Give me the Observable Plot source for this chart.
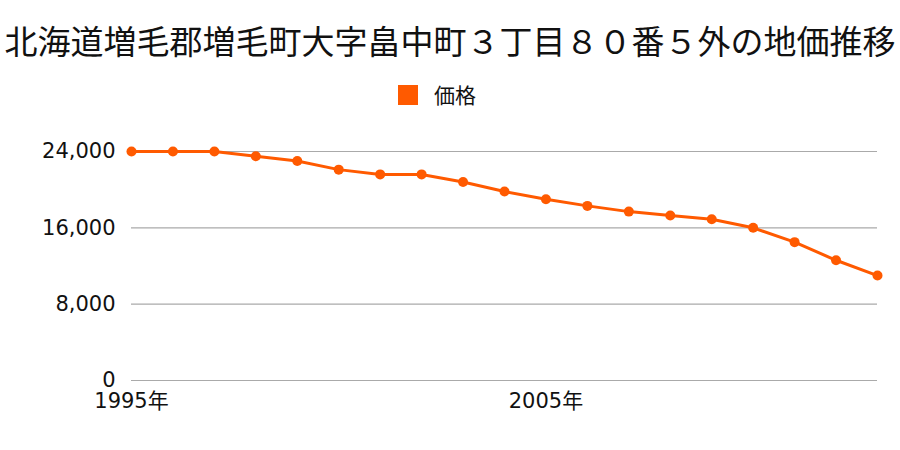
<!DOCTYPE html>
<html><head><meta charset="utf-8">
<script src="https://cdn.jsdelivr.net/npm/d3@7"></script>
<script src="https://cdn.jsdelivr.net/npm/@observablehq/plot@0.6"></script>
<style>
body{margin:0;background:#fff;font-family:"Noto Sans CJK JP","Noto Sans",sans-serif;}
#wrap{width:900px;}
#title{height:78px;font-size:33px;text-align:center;line-height:80px;color:#111;white-space:nowrap;}
#legend{height:37px;display:flex;justify-content:center;align-items:flex-start;font-size:21px;color:#111;padding-right:26px;}
#legend .sw{width:20px;height:20px;background:#ff5a00;margin-top:7px;margin-right:16px;}
#legend span{line-height:32px;}
#chart svg text{font-size:21px;font-family:"DejaVu Sans","Noto Sans CJK JP",sans-serif;fill:#111;}
</style></head>
<body><div id="wrap">
<div id="title">北海道増毛郡増毛町大字畠中町３丁目８０番５外の地価推移</div>
<div id="legend"><div class="sw"></div><span>価格</span></div>
<div id="chart"></div>
</div>
<script>
const years = [1995,1996,1997,1998,1999,2000,2001,2002,2003,2004,2005,2006,2007,2008,2009,2010,2011,2012,2013];
const prices = [24000,24000,24000,23500,23000,22100,21600,21600,20800,19800,19000,18300,17700,17300,16900,16000,14500,12600,11000];
const yTicks = [0,8000,16000,24000];
const xTicks = [1995,2005];
const seriesName = "価格";
const data = years.map((y,i)=>({year:y, price:prices[i], series:seriesName}));
const color = "#ff5a00";
const chart = Plot.plot({
  width:900, height:335,
  marginLeft:131, marginRight:23, marginTop:36, marginBottom:70,
  style:{fontFamily:'"DejaVu Sans","Noto Sans CJK JP",sans-serif', fontSize:"21px", color:"#111", background:"#fff"},
  x:{domain:[1995,2013]},
  y:{domain:[0,24000]},
  marks:[
    Plot.gridY(yTicks,{stroke:"#aaa",strokeOpacity:1,strokeWidth:1.2}),
    Plot.axisY(yTicks,{tickSize:0,tickPadding:16,tickFormat:d=>d3.format(",")(d),label:null}),
    Plot.axisX(xTicks,{tickSize:0,tickPadding:13,tickFormat:d=>d+"年",label:null}),
    Plot.line(data,{x:"year",y:"price",stroke:color,strokeWidth:3}),
    Plot.dot(data,{x:"year",y:"price",fill:color,r:5})
  ]
});
document.getElementById("chart").appendChild(chart);
</script>
</body></html>
